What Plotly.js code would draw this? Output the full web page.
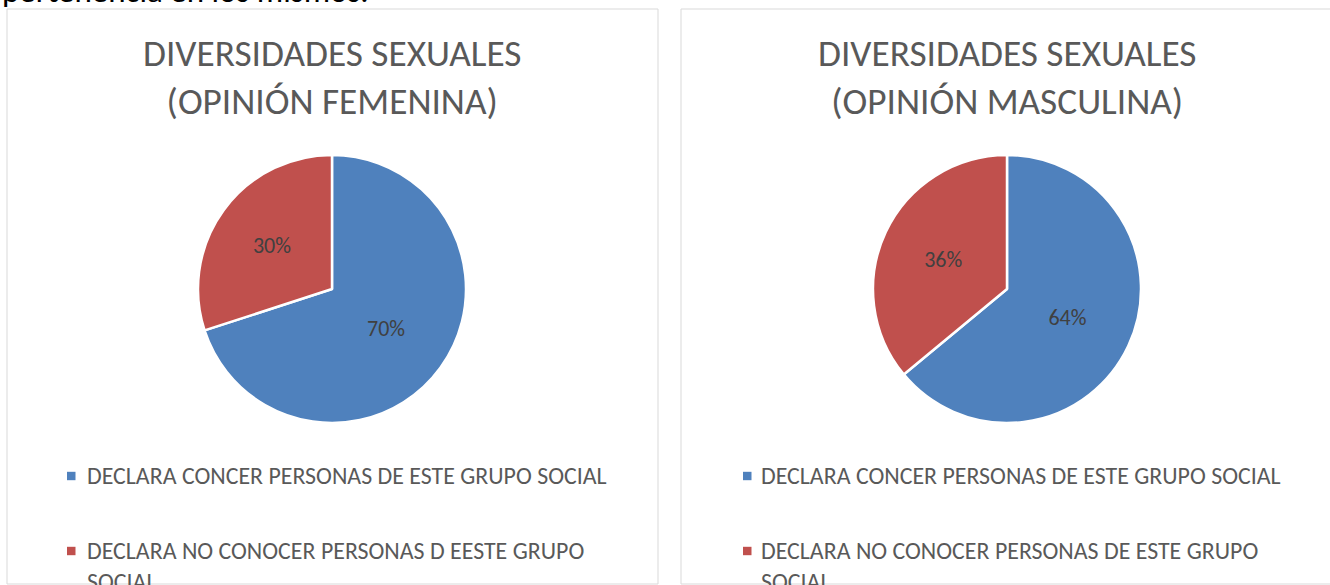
<!DOCTYPE html>
<html>
<head>
<meta charset="utf-8">
<script src="https://cdn.plot.ly/plotly-3.0.1.min.js"></script>
<style>
html,body{margin:0;padding:0;background:#fff;}
#chart{width:1330px;height:585px;}
</style>
</head>
<body>
<div id="chart"></div>
<script>
// ---- data ----
const categoriesFem = ["DECLARA CONCER PERSONAS DE ESTE GRUPO SOCIAL", "DECLARA NO CONOCER PERSONAS D EESTE GRUPO SOCIAL"];
const categoriesMas = ["DECLARA CONCER PERSONAS DE ESTE GRUPO SOCIAL", "DECLARA NO CONOCER PERSONAS DE ESTE GRUPO SOCIAL"];
const legendLinesFem = ["DECLARA CONCER PERSONAS DE ESTE GRUPO SOCIAL", "DECLARA NO CONOCER PERSONAS D EESTE GRUPO<br>SOCIAL"];
const legendLinesMas = ["DECLARA CONCER PERSONAS DE ESTE GRUPO SOCIAL", "DECLARA NO CONOCER PERSONAS DE ESTE GRUPO<br>SOCIAL"];
const valuesFem = [70, 30];
const valuesMas = [64, 36];
const titleFem = "DIVERSIDADES SEXUALES<br>(OPINIÓN FEMENINA)";
const titleMas = "DIVERSIDADES SEXUALES<br>(OPINIÓN MASCULINA)";
const topText = "pertenencia en los mismos.";

// ---- style ----
const W = 1330, H = 585;
const colors = ["#4F81BD", "#C0504D"];
const FONT = "Carlito, Calibri, 'Liberation Sans Narrow', 'DejaVu Sans Condensed', 'Open Sans', sans-serif";
const px = v => v / W;
const py = v => 1 - v / H;

function pieTrace(labels, values, cx, cy, r) {
  return {
    type: "pie",
    labels: labels,
    values: values,
    sort: false,
    direction: "clockwise",
    rotation: 0,
    marker: {colors: colors, line: {color: "#ffffff", width: 2.5}},
    texttemplate: "%{percent:.0%}",
    textposition: "inside",
    insidetextorientation: "horizontal",
    textfont: {family: FONT, size: 22, color: "#404040"},
    hoverinfo: "none",
    showlegend: false,
    domain: {x: [px(cx - r), px(cx + r)], y: [py(cy + r), py(cy - r)]}
  };
}

const pies = [
  {cx: 332, cy: 289, r: 134},
  {cx: 1007, cy: 289, r: 134}
];

const data = [
  pieTrace(categoriesFem, valuesFem, pies[0].cx, pies[0].cy, pies[0].r),
  pieTrace(categoriesMas, valuesMas, pies[1].cx, pies[1].cy, pies[1].r)
];

const panels = [
  {x0: 7, x1: 658, title: titleFem, legend: legendLinesFem, mx: 67, tx: 85, cx: pies[0].cx},
  {x0: 681, x1: 1340, title: titleMas, legend: legendLinesMas, mx: 743, tx: 759, cx: pies[1].cx}
];
const legendY = [476, 551];

const shapes = [];
const annotations = [];
panels.forEach(p => {
  shapes.push({type: "rect", xref: "paper", yref: "paper",
    x0: px(p.x0), x1: px(p.x1), y0: py(584), y1: py(9),
    line: {color: "#D9D9D9", width: 1}, fillcolor: "rgba(0,0,0,0)"});
  annotations.push({xref: "paper", yref: "paper", x: px(p.cx), y: py(77),
    xanchor: "center", yanchor: "middle", showarrow: false, text: p.title,
    font: {family: FONT, size: 37.3, color: "#595959"}, align: "center"});
  p.legend.forEach((t, i) => {
    shapes.push({type: "rect", xref: "paper", yref: "paper",
      x0: px(p.mx), x1: px(p.mx + 8.5), y0: py(legendY[i] + 4.2), y1: py(legendY[i] - 4.2),
      line: {width: 0}, fillcolor: colors[i]});
    annotations.push({xref: "paper", yref: "paper", x: px(p.tx), y: py(legendY[i] - 17),
      xanchor: "left", yanchor: "top", showarrow: false, text: t, align: "left",
      font: {family: FONT, size: 23.9, color: "#595959"}});
  });
});
annotations.push({xref: "paper", yref: "paper", x: 0, y: py(-9.5), xanchor: "left", yanchor: "middle",
  showarrow: false, text: topText, font: {family: FONT, size: 33, color: "#000000"}});

const layout = {
  width: W, height: H,
  margin: {l: 0, r: 0, t: 0, b: 0},
  paper_bgcolor: "#ffffff",
  plot_bgcolor: "#ffffff",
  showlegend: false,
  shapes: shapes,
  annotations: annotations
};

Plotly.newPlot("chart", data, layout, {displayModeBar: false, staticPlot: true});
</script>
</body>
</html>
